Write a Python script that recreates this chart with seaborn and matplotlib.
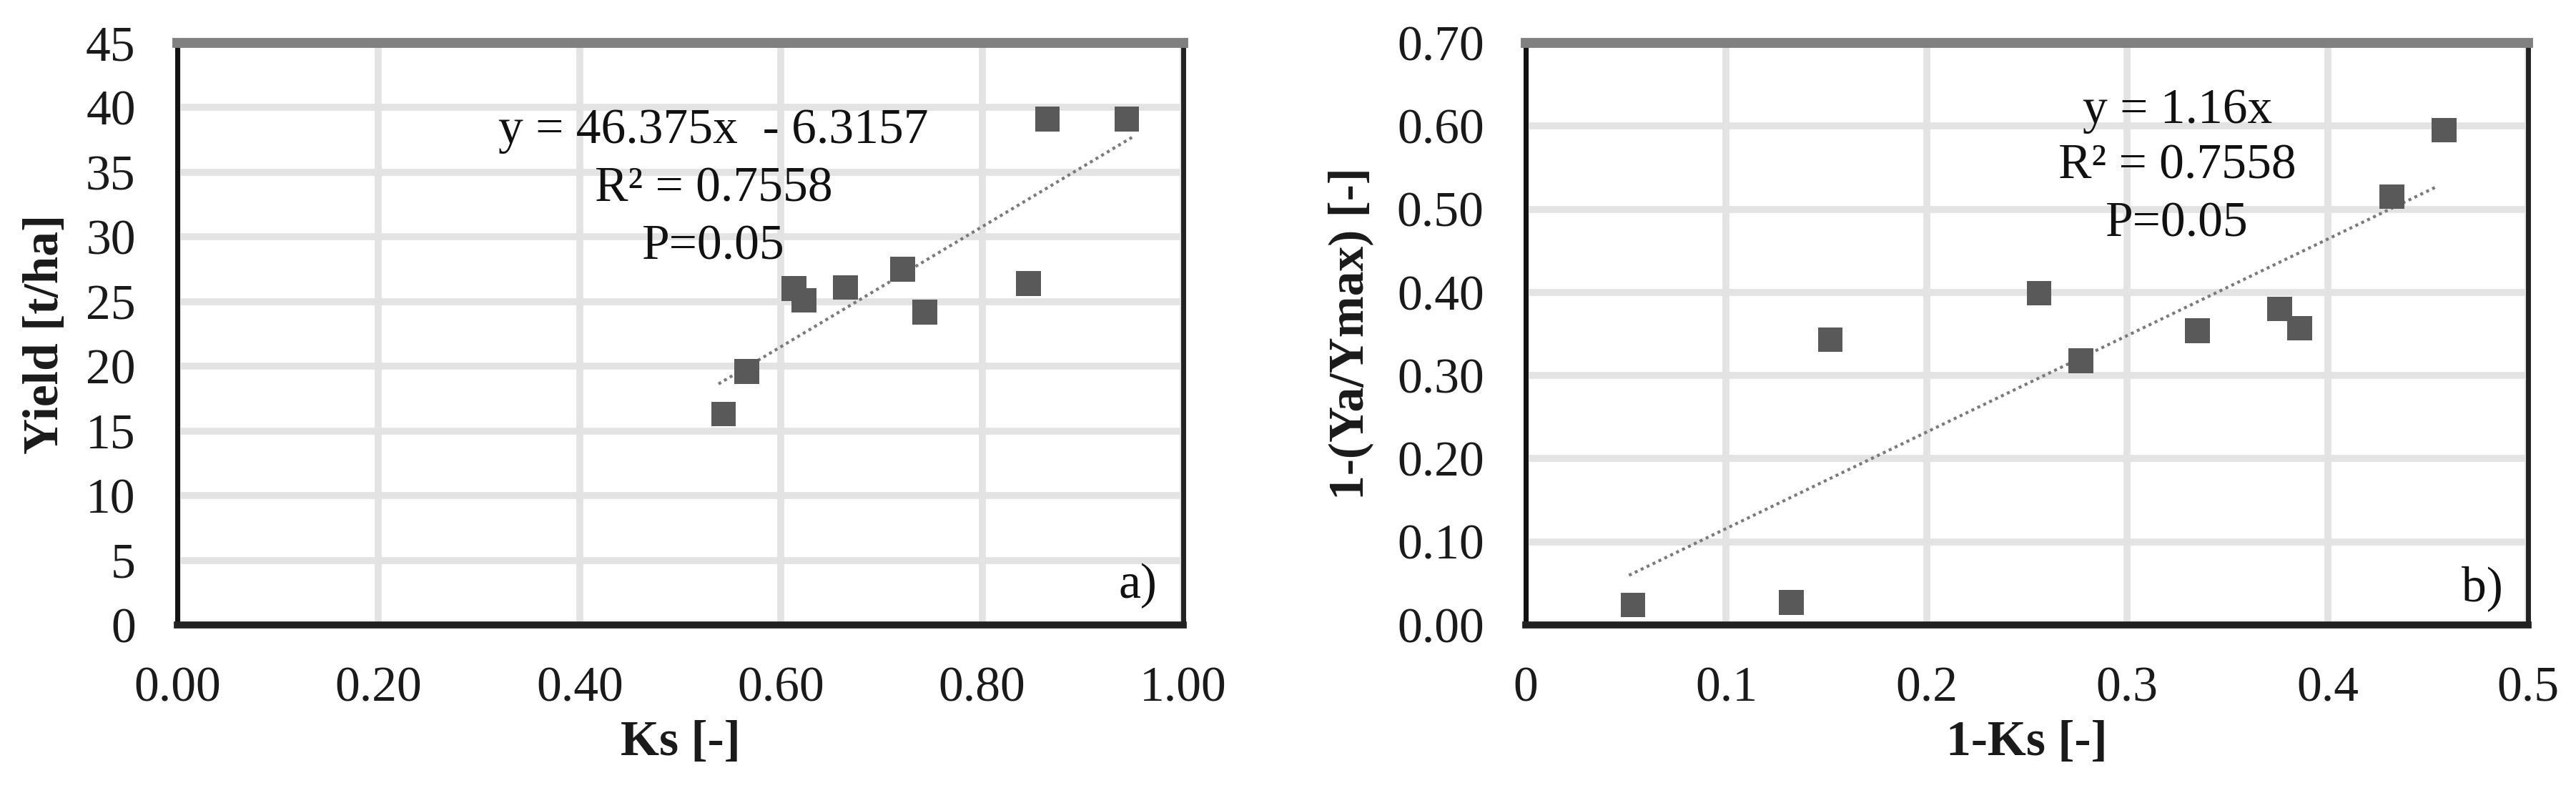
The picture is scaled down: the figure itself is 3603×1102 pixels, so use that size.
import matplotlib
matplotlib.use("Agg")
import matplotlib.pyplot as plt
import seaborn as sns
import numpy as np
import pandas as pd

# ---- data ----
ks = [0.543, 0.566, 0.613, 0.623, 0.664, 0.721, 0.743, 0.846, 0.865, 0.944]
yield_tha = [16.3, 19.6, 26.0, 25.1, 26.1, 27.5, 24.2, 26.4, 39.1, 39.1]

one_minus_ks = [0.0535, 0.1325, 0.152, 0.256, 0.277, 0.335, 0.376, 0.386, 0.432, 0.458]
yield_loss = [0.024, 0.027, 0.343, 0.399, 0.318, 0.354, 0.380, 0.357, 0.515, 0.595]

slope_a, intercept_a = 46.375, -6.3157
slope_b = 1.16

eq_a = ["y = 46.375x  - 6.3157", "R² = 0.7558", "P=0.05"]
eq_b = ["y = 1.16x", "R² = 0.7558", "P=0.05"]

xticks_a = [0.0, 0.2, 0.4, 0.6, 0.8, 1.0]
yticks_a = list(range(0, 50, 5))
xticks_b = [0, 0.1, 0.2, 0.3, 0.4, 0.5]
yticks_b = [0.0, 0.1, 0.2, 0.3, 0.4, 0.5, 0.6, 0.7]

sns.set_theme(style="white")
plt.rcParams['font.family'] = ['Liberation Serif', 'DejaVu Serif']

fig = plt.figure(figsize=(36.03, 11.02), dpi=100)
ax1 = fig.add_axes([248/3603, 1-874/1102, (1655-248)/3603, (874-60)/1102])
ax2 = fig.add_axes([2134/3603, 1-874/1102, (3536-2134)/3603, (874-60)/1102])

MARK = "#595959"
GRID = "#e3e3e3"
FS = 50

def style(ax, xt, yt, xfmt, yfmt, xlim, ylim, xlabel, ylabel, ylab_x):
    ax.set_xlim(*xlim)
    ax.set_ylim(*ylim)
    ax.set_xticks(xt)
    ax.set_yticks(yt)
    ax.set_xticklabels([xfmt(v) for v in xt], fontsize=FS)
    ax.set_yticklabels([yfmt(v) for v in yt], fontsize=FS)
    ax.tick_params(axis='both', length=0, colors='#1a1a1a')
    ax.tick_params(axis='x', pad=42)
    ax.tick_params(axis='y', pad=42)
    ax.grid(True, color=GRID, linewidth=7)
    ax.set_axisbelow(True)
    ax.spines['top'].set_color('#808080'); ax.spines['top'].set_linewidth(10)
    ax.spines['bottom'].set_color('#222222'); ax.spines['bottom'].set_linewidth(7)
    ax.spines['left'].set_color('#111111'); ax.spines['left'].set_linewidth(5)
    ax.spines['right'].set_color('#222222'); ax.spines['right'].set_linewidth(5)
    for s in ax.spines.values():
        s.set_visible(True)
    ax.set_xlabel(xlabel, fontsize=FS, fontweight='bold', color='#1a1a1a')
    ax.set_ylabel(ylabel, fontsize=FS, fontweight='bold', color='#1a1a1a')
    ax.xaxis.set_label_coords(0.5, -0.163)
    ax.yaxis.set_label_coords(ylab_x, 0.5)

# Panel a
dfa = pd.DataFrame({"Ks": ks, "Yield": yield_tha})
sns.scatterplot(data=dfa, x="Ks", y="Yield", ax=ax1, marker='s', s=620,
                color=MARK, edgecolor='none', zorder=3)
xa = np.array([min(ks) - 0.005, max(ks) + 0.005])
ax1.plot(xa, slope_a * xa + intercept_a, linestyle=(0, (1, 1.2)), color='#7a7a7a',
         linewidth=3, zorder=2)
style(ax1, xticks_a, yticks_a, lambda v: f"{v:.2f}", lambda v: f"{v:d}",
      (0, 1.0), (0, 45), "Ks [-]", "Yield [t/ha]", -0.108)
for txt, yy in zip(eq_a, [0.848, 0.748, 0.649]):
    ax1.text(0.533, yy, txt, transform=ax1.transAxes, ha='center', va='center',
             fontsize=FS, color='#111111')
ax1.text(0.955, 0.067, "a)", transform=ax1.transAxes, ha='center', va='center',
         fontsize=FS, color='#111111')

# Panel b
dfb = pd.DataFrame({"x": one_minus_ks, "y": yield_loss})
sns.scatterplot(data=dfb, x="x", y="y", ax=ax2, marker='s', s=620,
                color=MARK, edgecolor='none', zorder=3)
xb = np.array([min(one_minus_ks) - 0.002, max(one_minus_ks) - 0.003])
ax2.plot(xb, slope_b * xb, linestyle=(0, (1, 1.2)), color='#7a7a7a',
         linewidth=3, zorder=2)
style(ax2, xticks_b, yticks_b, lambda v: f"{v:g}", lambda v: f"{v:.2f}",
      (0, 0.5), (0, 0.70), "1-Ks [-]", "1-(Ya/Ymax) [-]", -0.152)
for txt, yy in zip(eq_b, [0.883, 0.788, 0.688]):
    ax2.text(0.650, yy, txt, transform=ax2.transAxes, ha='center', va='center',
             fontsize=FS, color='#111111')
ax2.text(0.954, 0.063, "b)", transform=ax2.transAxes, ha='center', va='center',
         fontsize=FS, color='#111111')

fig.savefig("out.png", dpi=100, facecolor='white')
